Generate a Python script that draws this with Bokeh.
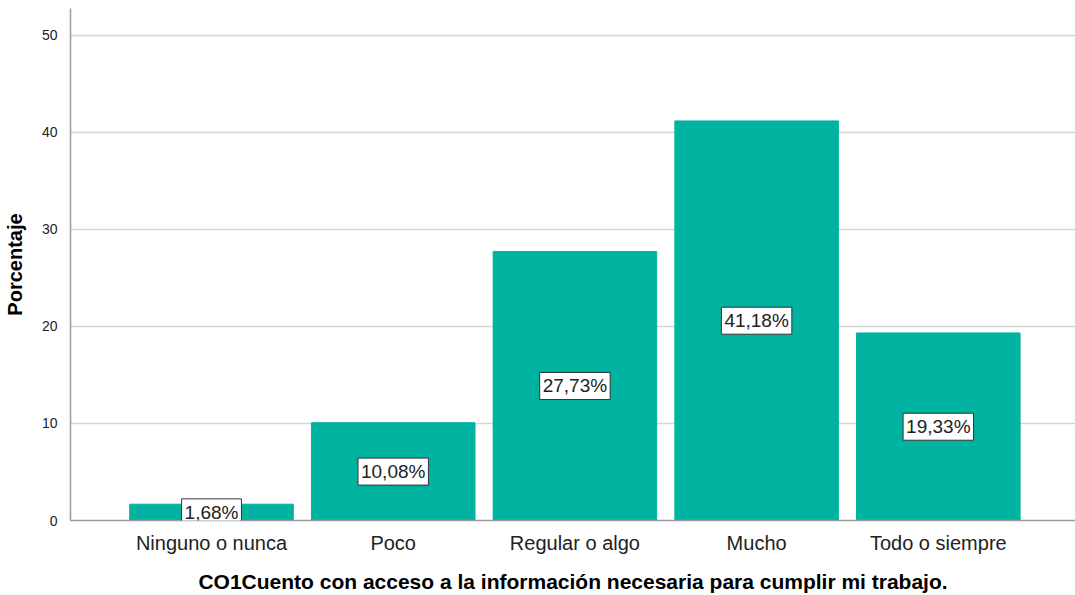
from bokeh.plotting import figure
from bokeh.models import ColumnDataSource, Label, FixedTicker, Range1d
from bokeh.embed import file_html
from bokeh.resources import INLINE

categories = ["Ninguno o nunca", "Poco", "Regular o algo", "Mucho", "Todo o siempre"]
percentages = [1.68, 10.08, 27.73, 41.18, 19.33]
y_ticks = [0, 10, 20, 30, 40, 50]
x_title = "CO1Cuento con acceso a la información necesaria para cumplir mi trabajo."
y_title = "Porcentaje"

positions = [i + 1 for i in range(len(categories))]
labels = [f"{v:.2f}".replace(".", ",") + "%" for v in percentages]
mids = [v / 2 for v in percentages]

src = ColumnDataSource(dict(x=positions, top=percentages))

FONT = "Liberation Sans"
BAR = "#00B3A0"

p = figure(width=1075, height=595, output_backend="svg", toolbar_location=None,
           x_range=Range1d(0.224, 5.755), y_range=Range1d(0, 52.77),
           min_border_left=0, min_border_right=0, min_border_top=8, min_border_bottom=72)
p.outline_line_color = None
p.background_fill_color = "white"
p.border_fill_color = "white"

p.vbar(x="x", top="top", width=0.9, source=src, fill_color=BAR, line_color=BAR)

for xp, ym, lab in zip(positions, mids, labels):
    p.add_layout(Label(x=xp, y=ym, text=lab, text_align="center",
                       text_baseline="middle", text_font=FONT, text_font_size="19px",
                       text_color="#222222", background_fill_color="white",
                       border_line_color="#333333", border_line_width=1, padding=3))

# y axis
p.yaxis.ticker = FixedTicker(ticks=y_ticks)
p.yaxis.axis_label = y_title
p.yaxis.axis_label_text_font = FONT
p.yaxis.axis_label_text_font_style = "bold"
p.yaxis.axis_label_text_font_size = "20px"
p.yaxis.axis_label_text_color = "#000000"
p.yaxis.axis_label_standoff = 13
p.yaxis.major_label_text_font = FONT
p.yaxis.major_label_text_font_size = "14px"
p.yaxis.major_label_text_color = "#222222"
p.yaxis.major_label_standoff = 7
p.yaxis.major_tick_line_color = None
p.yaxis.minor_tick_line_color = None
p.yaxis.axis_line_color = "#9a9a9a"
p.yaxis.axis_line_width = 1.5

# x axis
p.xaxis.ticker = FixedTicker(ticks=positions)
p.xaxis.major_label_overrides = {pos: c for pos, c in zip(positions, categories)}
p.xaxis.axis_label = x_title
p.xaxis.axis_label_text_font = FONT
p.xaxis.axis_label_text_font_style = "bold"
p.xaxis.axis_label_text_font_size = "21px"
p.xaxis.axis_label_text_color = "#000000"
p.xaxis.axis_label_standoff = 13
p.xaxis.major_label_text_font = FONT
p.xaxis.major_label_text_font_size = "20px"
p.xaxis.major_label_text_color = "#222222"
p.xaxis.major_label_standoff = 5
p.xaxis.major_tick_line_color = None
p.xaxis.minor_tick_line_color = None
p.xaxis.axis_line_color = "#9a9a9a"
p.xaxis.axis_line_width = 1.5

p.xgrid.grid_line_color = None
p.ygrid.grid_line_color = "#d6d6d6"
p.ygrid.grid_line_width = 1.5
p.ygrid.ticker = FixedTicker(ticks=y_ticks[1:])

open("out.html", "w").write(file_html(p, INLINE))
